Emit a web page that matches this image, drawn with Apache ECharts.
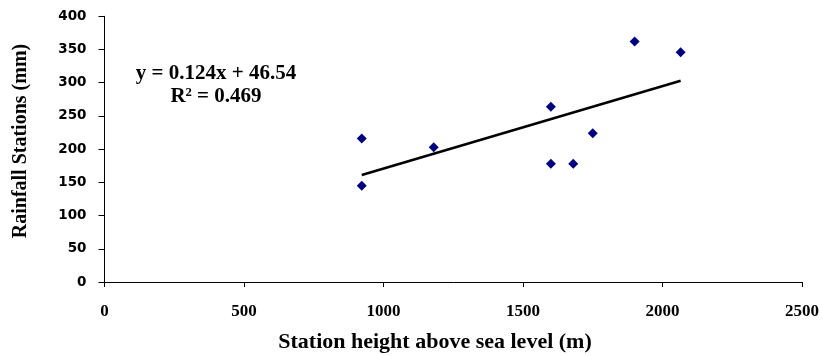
<!DOCTYPE html>
<html><head><meta charset="utf-8">
<script src="https://cdn.jsdelivr.net/npm/echarts@6/dist/echarts.min.js"></script>
<style>html,body{margin:0;padding:0;background:#fff}#c{width:822px;height:356px}</style>
</head><body><div id="c"></div>
<script>
var heights = [922, 922, 1180, 1600, 1600, 1680, 1750, 1900, 2065];
var rainfall = [216, 145, 203, 264, 178, 178, 224, 362, 346];
var trendX = [922, 2065];
var trendY = [161, 303];
var equationText = 'y = 0.124x + 46.54';
var r2Text = 'R² = 0.469';
var xTitle = 'Station height above sea level (m)';
var yTitle = 'Rainfall Stations (mm)';

var pts = heights.map(function(h, i){ return [h, rainfall[i]]; });
var trend = trendX.map(function(x, i){ return [x, trendY[i]]; });

var chart = echarts.init(document.getElementById('c'), null, {renderer:'canvas'});
chart.setOption({
  animation:false,
  grid:{left:104.5, right:20, top:16.3, bottom:74, containLabel:false},
  xAxis:{type:'value', min:0, max:2500, interval:500,
    axisLine:{lineStyle:{color:'#000', width:1}},
    axisTick:{show:true, length:5, inside:false, lineStyle:{color:'#000'}},
    axisLabel:{fontFamily:'Liberation Serif', fontWeight:'bold', fontSize:17, color:'#000', margin:21,
      formatter:function(v){ return String(v); }},
    splitLine:{show:false}},
  yAxis:{type:'value', min:0, max:400, interval:50,
    axisLine:{show:true, lineStyle:{color:'#000', width:1}},
    axisTick:{show:true, length:6, lineStyle:{color:'#000'}},
    axisLabel:{fontFamily:'DejaVu Sans', fontWeight:'bold', fontSize:13.5, color:'#000', margin:18},
    splitLine:{show:false}},
  series:[
    {type:'line', data:trend, symbol:'none', lineStyle:{color:'#000', width:2.5}, z:2},
    {type:'scatter', data:pts, symbol:'diamond', symbolSize:10, itemStyle:{color:'#000080', opacity:1}, z:3}
  ],
  graphic:[
    {type:'text', x:216, y:74, style:{text:equationText, font:'bold 21px "Liberation Serif"', fill:'#000', textAlign:'center', textVerticalAlign:'middle'}},
    {type:'text', x:216, y:97, style:{text:r2Text, font:'bold 21px "Liberation Serif"', fill:'#000', textAlign:'center', textVerticalAlign:'middle'}},
    {type:'text', x:435, y:342, style:{text:xTitle, font:'bold 22px "Liberation Serif"', fill:'#000', textAlign:'center', textVerticalAlign:'middle'}},
    {type:'text', x:21, y:141, rotation:Math.PI/2, style:{text:yTitle, font:'bold 20px "Liberation Serif"', fill:'#000', textAlign:'center', textVerticalAlign:'middle'}}
  ]
});
</script></body></html>
